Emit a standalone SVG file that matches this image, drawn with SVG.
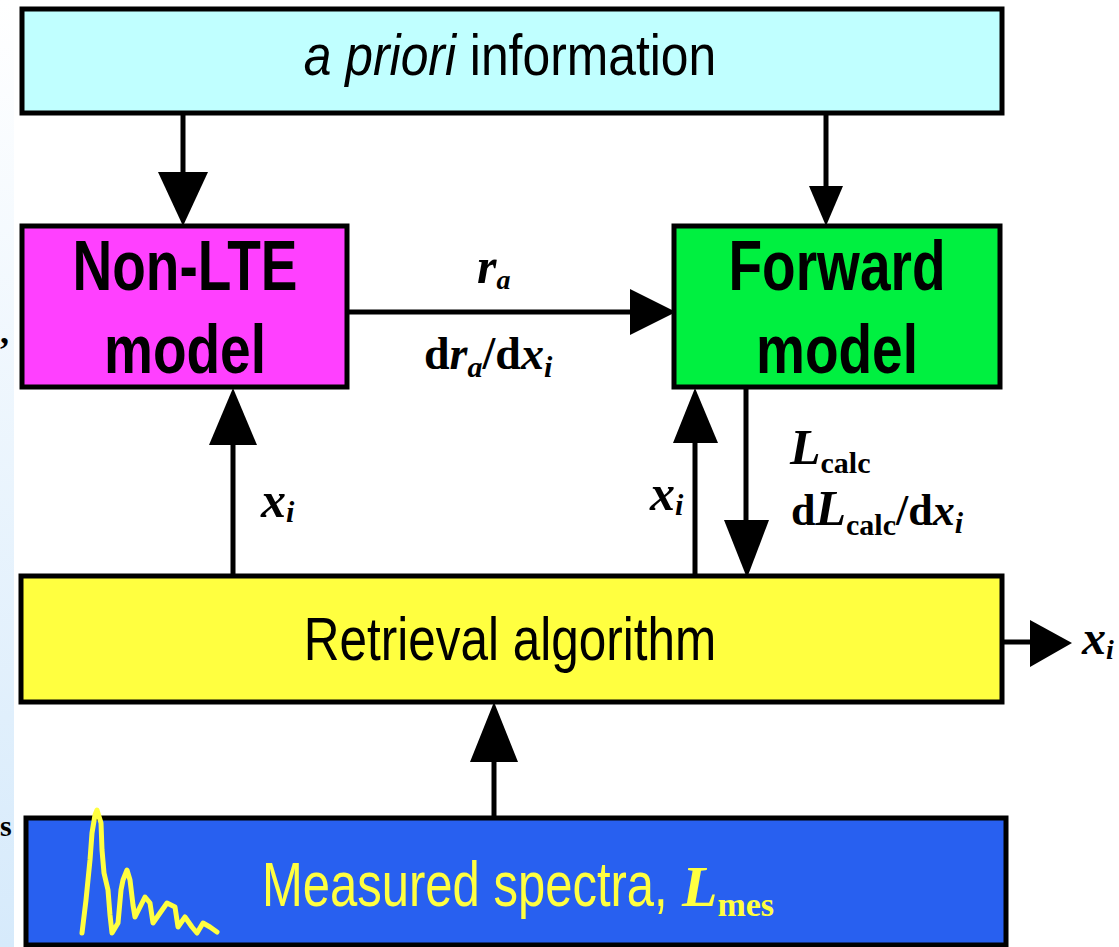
<svg xmlns="http://www.w3.org/2000/svg" width="1119" height="947" viewBox="0 0 1119 947">
<defs>
<linearGradient id="edge" x1="0" y1="0" x2="0" y2="1">
<stop offset="0" stop-color="#ffffff"/>
<stop offset="1" stop-color="#d6eafb"/>
</linearGradient>
<style>
.box{stroke:#000;stroke-width:5}
.lbl{font-family:"Liberation Sans",Arial,sans-serif}
.big{font-family:"Liberation Sans",Arial,sans-serif;font-weight:bold;font-size:55px;text-anchor:middle}
.math{font-family:"Liberation Serif","Times New Roman",serif;font-weight:bold;fill:#000}
.ln{stroke:#000;stroke-width:5;fill:none}
.hd{fill:#000}
</style>
</defs>
<rect x="0" y="0" width="1119" height="947" fill="#ffffff"/>
<rect x="0" y="0" width="14" height="947" fill="url(#edge)"/>
<text x="0" y="343" class="math" font-size="36">,</text>
<text x="0" y="836" class="math" font-size="30">s</text>

<g id="apriori">
<rect class="box" x="22" y="9" width="980" height="104" fill="#c0ffff"/>
<text class="lbl" transform="translate(510,75) scale(1,1.16)" x="0" y="0" font-size="49.8" text-anchor="middle"><tspan font-style="italic">a priori</tspan> information</text>
</g>
<g id="nonlte">
<rect class="box" x="22" y="226" width="325" height="161" fill="#ff40ff"/>
<text class="big" transform="translate(185,290) scale(1,1.27)" x="0" y="0">Non-LTE</text>
<text class="big" transform="translate(185,373) scale(1,1.25)" x="0" y="0">model</text>
</g>
<g id="forward">
<rect class="box" x="674" y="226" width="326" height="161" fill="#00f040"/>
<text class="big" transform="translate(837,290) scale(1,1.27)" x="0" y="0">Forward</text>
<text class="big" transform="translate(837,373) scale(1,1.25)" x="0" y="0">model</text>
</g>
<g id="retrieval">
<rect class="box" x="21" y="576" width="981" height="126" fill="#ffff40"/>
<text class="lbl" transform="translate(510,660) scale(1,1.22)" x="0" y="0" font-size="49.5" text-anchor="middle">Retrieval algorithm</text>
</g>
<g id="measured">
<rect class="box" x="26" y="818" width="980" height="127" fill="#2860f0"/>
<polyline fill="none" stroke="#ffff40" stroke-width="5" stroke-linecap="round" stroke-linejoin="round" points="82,933 86,900 90,860 92,833 95,815 97,810 101,823 102,850 104,873 108,890 110,915 112,933 118,923 121,890 123,880 127,870 130,880 133,905 135,917 140,907 145,897 150,903 153,923 160,913 167,903 175,907 178,927 185,917 192,927 197,933 203,923 210,927 217,932"/>
<text class="lbl" transform="translate(262,906) scale(1,1.3)" x="0" y="0" font-size="49" fill="#ffff40">Measured spectra,</text>
<text x="682" y="906" font-family="'Liberation Serif','Times New Roman',serif" font-weight="bold" font-size="58" fill="#ffff40"><tspan font-style="italic">L</tspan><tspan font-size="34" dy="10">mes</tspan></text>
</g>

<g id="connectors">
<line class="ln" x1="183" y1="113" x2="183" y2="180"/>
<polygon class="hd" points="158,172 208,172 183,226"/>
<line class="ln" x1="826" y1="113" x2="826" y2="190"/>
<polygon class="hd" points="809,186 843,186 826,226"/>
<line class="ln" x1="347" y1="312" x2="640" y2="312"/>
<polygon class="hd" points="630,289 630,335 676,312"/>
<line class="ln" x1="233" y1="576" x2="233" y2="440"/>
<polygon class="hd" points="209,445 257,445 233,388"/>
<line class="ln" x1="695" y1="576" x2="695" y2="440"/>
<polygon class="hd" points="673,443 718,443 695,388"/>
<line class="ln" x1="746" y1="387" x2="746" y2="525"/>
<polygon class="hd" points="724,520 769,520 747,578"/>
<line class="ln" x1="494" y1="818" x2="494" y2="755"/>
<polygon class="hd" points="470,762 518,762 494,702"/>
<line class="ln" x1="1002" y1="642" x2="1035" y2="642"/>
<polygon class="hd" points="1030,620 1030,667 1072,643"/>
</g>

<g id="labels">
<text class="math" x="477" y="283" font-size="50"><tspan font-style="italic">r</tspan><tspan font-style="italic" font-size="28" dy="6">a</tspan></text>
<text class="math" x="424" y="369" font-size="46">d<tspan font-style="italic">r</tspan><tspan font-style="italic" font-size="30" dy="8">a</tspan><tspan dy="-8">/d</tspan><tspan font-style="italic">x</tspan><tspan font-style="italic" font-size="30" dy="8">i</tspan></text>
<text class="math" x="261" y="517" font-size="50"><tspan font-style="italic">x</tspan><tspan font-style="italic" font-size="30" dy="5">i</tspan></text>
<text class="math" x="650" y="510" font-size="50"><tspan font-style="italic">x</tspan><tspan font-style="italic" font-size="30" dy="5">i</tspan></text>
<text class="math" x="790" y="464" font-size="50"><tspan font-style="italic">L</tspan><tspan font-size="30" dy="9">calc</tspan></text>
<text class="math" x="791" y="525" font-size="44">d<tspan font-style="italic" font-size="50">L</tspan><tspan font-size="30" dy="10">calc</tspan><tspan dy="-10">/d</tspan><tspan font-style="italic">x</tspan><tspan font-style="italic" font-size="30" dy="8">i</tspan></text>
<text class="math" x="1082" y="654" font-size="48"><tspan font-style="italic">x</tspan><tspan font-style="italic" font-size="28" dy="5">i</tspan></text>
</g>
</svg>
